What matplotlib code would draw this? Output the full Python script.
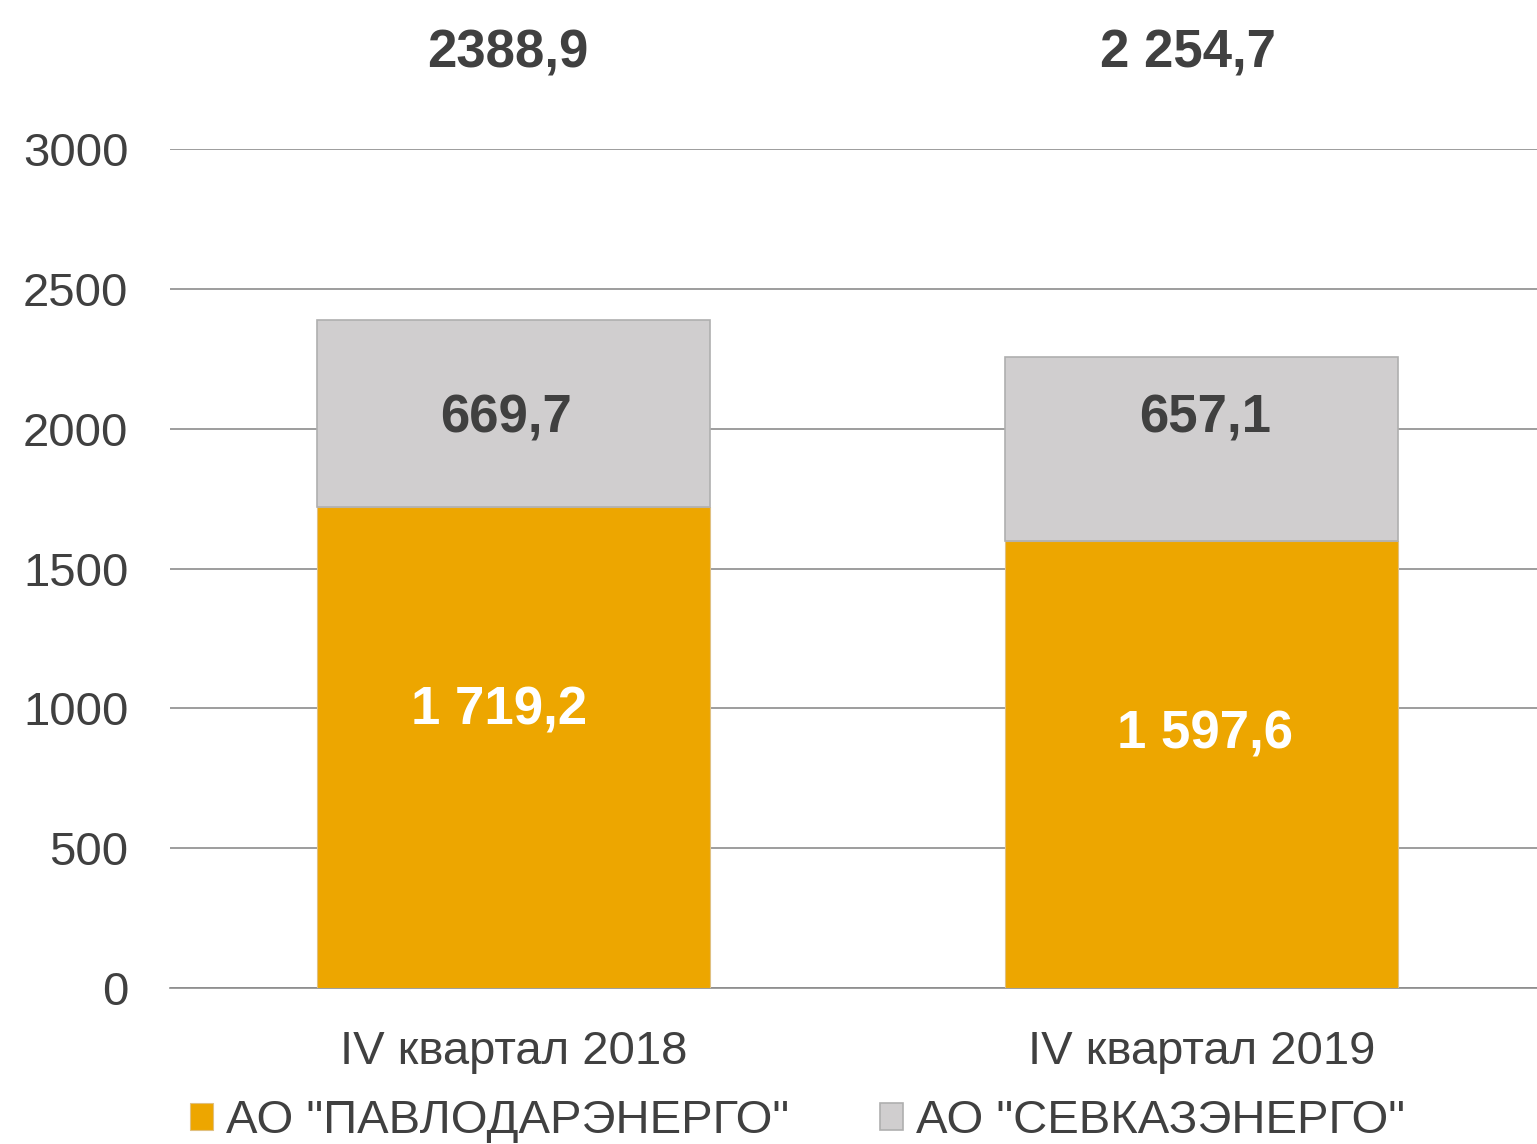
import matplotlib.pyplot as plt
import numpy as np

plt.rcParams['font.family'] = ['Liberation Sans', 'DejaVu Sans']

categories = ['IV квартал 2018', 'IV квартал 2019']
pavlodar = [1719.2, 1597.6]
sevkaz = [669.7, 657.1]
pavlodar_labels = ['1 719,2', '1 597,6']
sevkaz_labels = ['669,7', '657,1']
total_labels = ['2388,9', '2 254,7']
series_names = ['АО "ПАВЛОДАРЭНЕРГО"', 'АО "СЕВКАЗЭНЕРГО"']
yticks = [0, 500, 1000, 1500, 2000, 2500, 3000]

orange = '#EDA600'
grey = '#D0CECF'
text_col = '#404040'

fig = plt.figure(figsize=(15.37, 11.44), dpi=100)
ax = fig.add_axes([170 / 1537, 1 - 988 / 1144, 1 - 170 / 1537, (988 - 149) / 1144])

x = np.arange(len(categories))
w = 0.571
b1 = ax.bar(x, pavlodar, w, color=orange, edgecolor='#E0C080', linewidth=0.8,
            label=series_names[0], zorder=3)
b2 = ax.bar(x, sevkaz, w, bottom=pavlodar, color=grey, edgecolor='#AFAFAF',
            linewidth=1.2, label=series_names[1], zorder=3)

ax.set_xlim(-0.499, 1.488)
ax.set_ylim(0, 3000)
ax.set_yticks(yticks)
ax.set_yticklabels([str(t) for t in yticks])
ax.set_xticks(x)
ax.set_xticklabels(categories)
ax.yaxis.grid(True, color='#8C8C8C', linewidth=1.2, zorder=0)
ax.set_axisbelow(True)
for s in ['top', 'right', 'left']:
    ax.spines[s].set_visible(False)
ax.spines['bottom'].set_color('#8C8C8C')
ax.spines['bottom'].set_linewidth(1.2)
ax.tick_params(axis='y', length=0, pad=30, labelsize=34, labelcolor=text_col)
ax.tick_params(axis='x', length=0, pad=30, labelsize=34, labelcolor=text_col)

# segment labels (positions as placed in the original)
orange_y = [994, 905]
dx_orange = [-0.02, 0.005]
dx_grey = [-0.01, 0.005]
dx_total = [-0.008, -0.02]
for i in range(len(x)):
    ax.text(x[i] + dx_orange[i], orange_y[i], pavlodar_labels[i], ha='center', va='center',
            fontsize=38, fontweight='bold', color='white', zorder=5)
    ax.text(x[i] + dx_grey[i], 2035, sevkaz_labels[i], ha='center', va='center',
            fontsize=38, fontweight='bold', color=text_col, zorder=5)
    ax.text(x[i] + dx_total[i], 3340, total_labels[i], ha='center', va='center',
            fontsize=38, fontweight='bold', color=text_col, clip_on=False)

leg = fig.legend(handles=[b1, b2], loc='center left', bbox_to_anchor=(147 / 1537, 1 - 1121 / 1144),
                 ncol=2, frameon=False, fontsize=34, handlelength=0.5, handleheight=0.5,
                 handletextpad=0.27, columnspacing=1.92, labelcolor=text_col)

plt.savefig('out.png', dpi=100)
